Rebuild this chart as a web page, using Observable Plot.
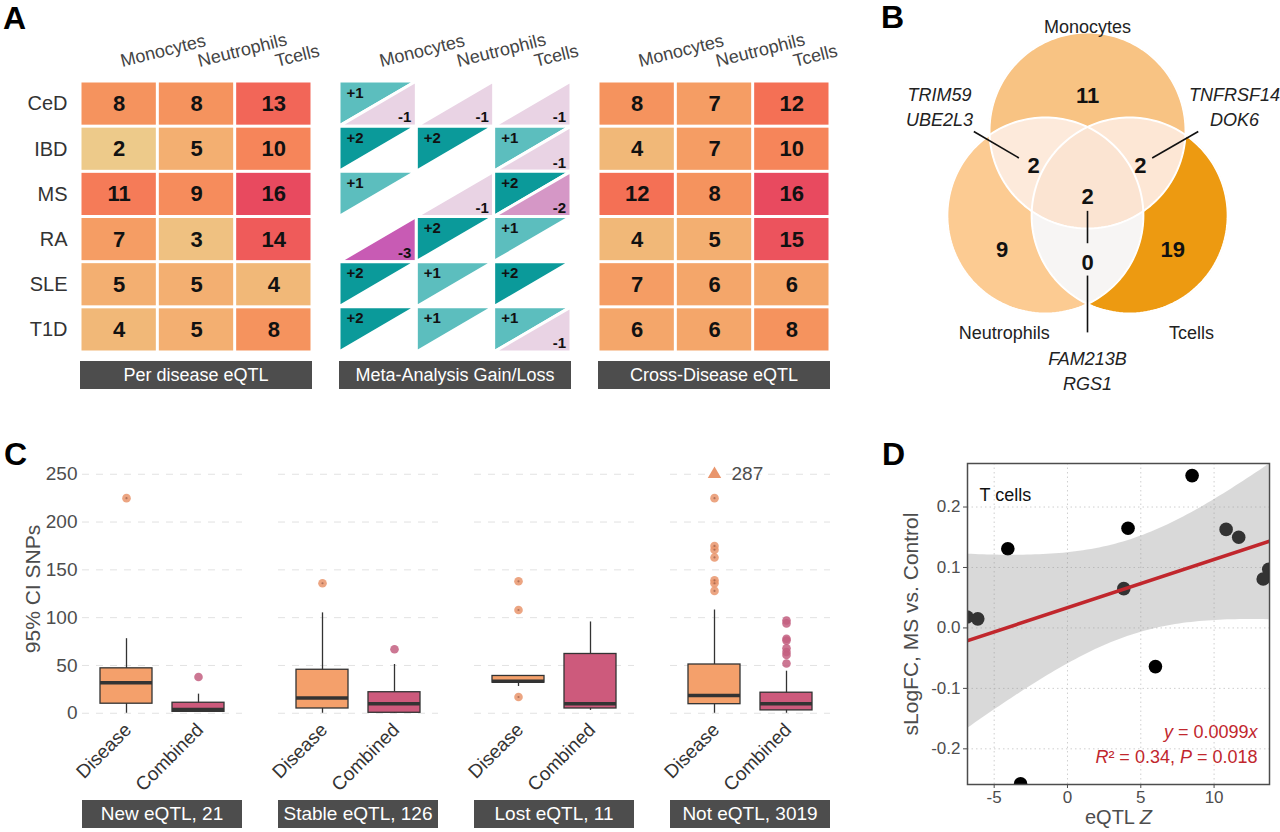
<!DOCTYPE html>
<html><head><meta charset="utf-8">
<script src="https://cdn.jsdelivr.net/npm/d3@7"></script>
<script src="https://cdn.jsdelivr.net/npm/@observablehq/plot@0.6"></script>
<style>
body{margin:0;background:#fff;}
#fig{position:relative;width:1280px;height:832px;overflow:hidden;font-family:"Liberation Sans",Arial,Helvetica,sans-serif;background:#fff;}
.abs{position:absolute;}
.plab{position:absolute;font-size:32px;font-weight:bold;line-height:1;color:#000;}
.strip{position:absolute;background:#4d4d4d;color:#fff;text-align:center;height:28px;line-height:28px;white-space:nowrap;}
</style></head>
<body>
<div id="fig">
  <div id="a1" class="abs" style="left:0;top:0"></div>
  <div id="a2" class="abs" style="left:320px;top:0"></div>
  <div id="a3" class="abs" style="left:580px;top:0"></div>
  <div id="b" class="abs" style="left:880px;top:0"></div>
  <div id="c" class="abs" style="left:0;top:440px"></div>
  <div id="d" class="abs" style="left:860px;top:440px"></div>
  <div class="plab" style="left:3px;top:2px">A</div>
  <div class="plab" style="left:881px;top:1px">B</div>
  <div class="plab" style="left:4px;top:438px">C</div>
  <div class="plab" style="left:882px;top:438px">D</div>
  <div id="stripsA"></div>
  <div id="stripsC"></div>
  <div class="abs" style="left:33px;top:589px;transform:translate(-50%,-50%) rotate(-90deg);font-size:21px;color:#4d4d4d;white-space:nowrap">95% CI SNPs</div>
</div>
<script>
// ---------- DATA ----------
const cellTypes = ["Monocytes", "Neutrophils", "Tcells"];
const diseases = ["CeD", "IBD", "MS", "RA", "SLE", "T1D"];
const perDisease = [[8, 8, 13], [2, 5, 10], [11, 9, 16], [7, 3, 14], [5, 5, 4], [4, 5, 8]];
const metaGain = [[1, 0, 0], [2, 2, 1], [1, 0, 2], [0, 2, 1], [2, 1, 2], [2, 1, 1]];
const metaLoss = [[1, 1, 1], [0, 0, 1], [0, 1, 2], [3, 0, 0], [0, 0, 0], [0, 0, 1]];
const crossDisease = [[8, 7, 12], [4, 7, 10], [12, 8, 16], [4, 5, 15], [7, 6, 6], [6, 6, 8]];
const panelATitles = ["Per disease eQTL", "Meta-Analysis Gain/Loss", "Cross-Disease eQTL"];

const vennSets = ["Monocytes", "Neutrophils", "Tcells"];
const vennRegions = ["M", "N", "T", "MN", "MT", "NT", "MNT"];
const vennCounts = [11, 9, 19, 2, 2, 0, 2];
const vennGenes = {MN: ["TRIM59", "UBE2L3"], MT: ["TNFRSF14", "DOK6"], NT: ["FAM213B", "RGS1"]};

const eqtlGroups = ["New eQTL, 21", "Stable eQTL, 126", "Lost eQTL, 11", "Not eQTL, 3019"];
const analyses = ["Disease", "Combined"];
const whiskerLow = [[0, 1], [0, 0], [28, 3], [0, 0]];
const boxQ1 = [[10, 1.5], [5, 0.5], [32, 5], [9.5, 3]];
const boxMedian = [[32, 4], [16, 10], [33.5, 10], [18.5, 10]];
const boxQ3 = [[47, 11], [45.5, 22], [39, 62], [51, 21.5]];
const whiskerHigh = [[78, 20], [105, 51], [39, 95.5], [108, 44]];
const outliersDisease = [[225], [136], [17, 108, 138], [128, 136, 139, 163, 171, 175, 225, 287]];
const outliersCombined = [[38], [67], [], [52, 61, 64, 68, 76, 78, 94, 97]];
const ciCap = 250;

const zScore = [-6.85, -6.12, -4.07, -3.2, 3.84, 4.13, 6.0, 8.5, 10.82, 11.68, 13.35, 13.73];
const sLogFC = [0.018, 0.015, 0.131, -0.258, 0.065, 0.165, -0.064, 0.252, 0.163, 0.150, 0.081, 0.097];

// ---------- STYLE ----------
const FONT = "Liberation Sans, Arial, Helvetica, sans-serif";
const baseStyle = {fontFamily: FONT, background: "transparent", overflow: "visible"};
const heatColor = {
  type: "linear",
  domain: [2, 4, 6, 8, 10, 12, 14, 16],
  range: ["#edca8a", "#f1b878", "#f4a66a", "#f5935e", "#f6855a", "#f47055", "#ef5b5a", "#e84a5f"],
  interpolate: "rgb"
};

function tidy(m) {
  const rows = [];
  m.forEach((r, ri) => r.forEach((v, ci) => rows.push({ri, ci, v})));
  return rows;
}
function colLabels() {
  return Plot.text(cellTypes, {x: (d, i) => i + 0.5, text: d => d, frameAnchor: "top", dy: -27,
    rotate: -14, textAnchor: "start", fontSize: 18, fill: "#444"});
}

// ---------- PANEL A ----------
function heatmap(matrix, width, marginLeft, marginRight, withRows) {
  const rows = tidy(matrix);
  return Plot.plot({
    width, height: 360, marginLeft, marginRight, marginTop: 81, marginBottom: 8,
    x: {domain: [0, 3], axis: null}, y: {domain: [0, 6], reverse: true, axis: null},
    color: heatColor, style: baseStyle,
    marks: [
      Plot.rect(rows, {x1: "ci", x2: d => d.ci + 1, y1: "ri", y2: d => d.ri + 1, fill: "v", inset: 1.5}),
      Plot.text(rows, {x: d => d.ci + 0.5, y: d => d.ri + 0.5, text: "v", fontSize: 22, fontWeight: "bold", fill: "#111"}),
      colLabels(),
      withRows ? Plot.text(diseases, {y: (d, i) => i + 0.5, text: d => d, frameAnchor: "left", dx: -13,
        textAnchor: "end", fontSize: 20, fill: "#333"}) : null
    ]
  });
}
document.getElementById("a1").append(heatmap(perDisease, 320, 80, 8, true));
document.getElementById("a3").append(heatmap(crossDisease, 260, 18, 10, false));

(function () {
  const areas = [], gainLab = [], lossLab = [];
  diseases.forEach((dz, ri) => cellTypes.forEach((ct, ci) => {
    const g = metaGain[ri][ci], l = metaLoss[ri][ci];
    if (g) {
      const k = "+" + g, id = "g" + ri + ci;
      areas.push({id, k, x: ci, y1: ri, y2: ri + 1}, {id, k, x: ci + 1, y1: ri, y2: ri});
      gainLab.push({ci, ri, t: k});
    }
    if (l) {
      const k = "-" + l, id = "l" + ri + ci;
      areas.push({id, k, x: ci, y1: ri + 1, y2: ri + 1}, {id, k, x: ci + 1, y1: ri, y2: ri + 1});
      lossLab.push({ci, ri, t: k});
    }
  }));
  const p = Plot.plot({
    width: 260, height: 360, marginLeft: 19, marginRight: 9, marginTop: 81, marginBottom: 8,
    x: {domain: [0, 3], axis: null}, y: {domain: [0, 6], reverse: true, axis: null},
    color: {domain: ["+1", "+2", "-1", "-2", "-3"], range: ["#5cbebe", "#0b9a9a", "#e9d3e4", "#d597c6", "#c85bb4"]},
    style: baseStyle,
    marks: [
      Plot.areaY(areas, {x: "x", y1: "y1", y2: "y2", z: "id", fill: "k", stroke: "white", strokeWidth: 3, strokeLinejoin: "miter"}),
      Plot.text(gainLab, {x: d => d.ci + 0.09, y: d => d.ri + 0.25, text: "t", textAnchor: "start", fontSize: 15, fontWeight: "bold", fill: "#111"}),
      Plot.text(lossLab, {x: d => d.ci + 0.93, y: d => d.ri + 0.8, text: "t", textAnchor: "end", fontSize: 15, fontWeight: "bold", fill: "#111"}),
      colLabels()
    ]
  });
  document.getElementById("a2").append(p);
})();

(function () {
  const lefts = [80, 339, 598];
  const host = document.getElementById("stripsA");
  panelATitles.forEach((t, i) => {
    const s = document.createElement("div");
    s.className = "strip"; s.textContent = t;
    s.style.cssText = `left:${lefts[i]}px;top:361px;width:232px;font-size:18px;`;
    host.append(s);
  });
})();

// ---------- PANEL B ----------
(function () {
  const cx = [0, -0.43, 0.43], cy = [0, 0.867, 0.867];
  const colors = ["#f8c383", "#fccb92", "#ed9a11", "#fdeadb", "#fde7d5", "#f7f5f4", "#fbe4d2"];
  const countPos = {M: [0, -0.35], N: [-0.87, 1.22], T: [0.87, 1.22], MN: [-0.55, 0.36], MT: [0.54, 0.36], NT: [0, 1.35], MNT: [0, 0.68]};
  const setPos = [[0, -1.05], [-0.85, 2.07], [1.06, 2.07]];
  const genePos = {MN: [-1.51, -0.26], MT: [1.5, -0.26], NT: [0, 2.44]};
  const leaders = [[-1.16, 0.01, -0.70, 0.28], [1.13, 0.01, 0.66, 0.28], [0, 0.82, 0, 1.15], [0, 1.48, 0, 2.06]];
  const inside = (x, y, i) => (x - cx[i]) ** 2 + (y - cy[i]) ** 2 <= 1;
  const region = (x, y) => {
    const k = (inside(x, y, 0) ? "M" : "") + (inside(x, y, 1) ? "N" : "") + (inside(x, y, 2) ? "T" : "");
    return k || "out";
  };
  const ring = [];
  vennSets.forEach((s, i) => d3.range(0, 361, 2).forEach(a => {
    const t = a * Math.PI / 180;
    ring.push({s, x: cx[i] + Math.cos(t), y: cy[i] + Math.sin(t)});
  }));
  const counts = vennRegions.map((r, i) => ({r, n: vennCounts[i], x: countPos[r][0], y: countPos[r][1]}));
  const genes = Object.keys(vennGenes).map(k => ({t: vennGenes[k].join("\n"), x: genePos[k][0], y: genePos[k][1]}));
  const p = Plot.plot({
    width: 400, height: 400, margin: 0,
    x: {domain: [-2.112, 1.969], axis: null}, y: {domain: [-1.327, 2.755], reverse: true, axis: null},
    color: {domain: [...vennRegions, "out"], range: [...colors, "#ffffff"]},
    style: baseStyle,
    marks: [
      Plot.raster({fill: region, x1: -2.112, x2: 1.969, y1: -1.327, y2: 2.755, pixelSize: 0.5}),
      Plot.line(ring, {x: "x", y: "y", z: "s", stroke: "white", strokeWidth: 2}),
      Plot.link(leaders, {x1: d => d[0], y1: d => d[1], x2: d => d[2], y2: d => d[3], stroke: "#111", strokeWidth: 1.6}),
      Plot.text(counts, {x: "x", y: "y", text: "n", fontSize: 22, fontWeight: "bold", fill: "#111"}),
      Plot.text(vennSets, {x: (d, i) => setPos[i][0], y: (d, i) => setPos[i][1], text: d => d, fontSize: 18, fill: "#222"}),
      Plot.text(genes, {x: "x", y: "y", text: "t", fontSize: 18, fontStyle: "italic", lineHeight: 1.39, fill: "#222"})
    ]
  });
  document.getElementById("b").append(p);
})();

// ---------- PANEL C ----------
(function () {
  const boxes = [], outs = [];
  eqtlGroups.forEach((g, gi) => analyses.forEach((a, ai) => boxes.push({
    group: g, type: a, lo: whiskerLow[gi][ai], q1: boxQ1[gi][ai], med: boxMedian[gi][ai], q3: boxQ3[gi][ai], hi: whiskerHigh[gi][ai]
  })));
  eqtlGroups.forEach((g, gi) => {
    outliersDisease[gi].forEach(v => outs.push({group: g, type: "Disease", v}));
    outliersCombined[gi].forEach(v => outs.push({group: g, type: "Combined", v}));
  });
  const shown = outs.filter(d => d.v <= ciCap), capped = outs.filter(d => d.v > ciCap);
  const ticks = [0, 50, 100, 150, 200, 250];
  const p = Plot.plot({
    width: 840, height: 360, marginLeft: 82, marginRight: 10, marginTop: 28, marginBottom: 81.5,
    fx: {domain: eqtlGroups, paddingInner: 0.1837, paddingOuter: 0, axis: null, label: null},
    x: {domain: analyses, paddingInner: 0.274, paddingOuter: 0.24, axis: null},
    y: {domain: [-6, 256], axis: null},
    color: {domain: analyses, range: ["#f4a06b", "#cd5a7c"]},
    style: baseStyle,
    marks: [
      Plot.gridY({ticks, stroke: "#e2e2e2", strokeOpacity: 1, strokeDasharray: "7,7"}),
      Plot.axisY({ticks, tickSize: 0, tickPadding: 5, fontSize: 19, fill: "#4d4d4d", label: null}),
      Plot.ruleX(boxes, {fx: "group", x: "type", y1: "lo", y2: "hi", stroke: "#333", strokeWidth: 1.3}),
      Plot.barY(boxes, {fx: "group", x: "type", y1: "q1", y2: "q3", fill: "type", stroke: "#333", strokeWidth: 1.3}),
      Plot.tickY(boxes, {fx: "group", x: "type", y: "med", stroke: "#333", strokeWidth: 3.5}),
      Plot.dot(shown, {fx: "group", x: "type", y: "v", r: 4.3, fill: d => d.type === "Disease" ? "#e9956c" : "#c35f80", fillOpacity: 0.85}),
      Plot.dot(shown.filter(d => d.type === "Disease"), {fx: "group", x: "type", y: "v", r: 1.1, fill: "#8a5040", fillOpacity: 0.6}),
      Plot.dot(capped, {fx: "group", x: "type", y: () => ciCap, symbol: "triangle", r: 5, fill: "#e9956c"}),
      Plot.text(capped, {fx: "group", x: "type", y: () => ciCap, text: d => String(d.v), dx: 17, textAnchor: "start", fontSize: 19, fill: "#4d4d4d"}),
      Plot.text(boxes, {fx: "group", x: "type", text: "type", frameAnchor: "bottom", rotate: -45, textAnchor: "end", dx: 6, dy: 12, fontSize: 19, fill: "#333"})
    ]
  });
  document.getElementById("c").append(p);
  const lefts = [82, 278, 474, 670];
  const host = document.getElementById("stripsC");
  eqtlGroups.forEach((t, i) => {
    const s = document.createElement("div");
    s.className = "strip"; s.textContent = t;
    s.style.cssText = `left:${lefts[i]}px;top:800px;width:160px;font-size:19px;`;
    host.append(s);
  });
})();

// ---------- PANEL D ----------
(function () {
  const pts = zScore.map((z, i) => ({z, fc: sLogFC[i]}));
  const xt = [-5, 0, 5, 10], yt = [-0.2, -0.1, 0, 0.1, 0.2];
  const red = "#c1272d";
  const p = Plot.plot({
    width: 420, height: 392, marginLeft: 107, marginRight: 11, marginTop: 23, marginBottom: 48,
    x: {domain: [-6.82, 13.78], axis: null}, y: {domain: [-0.259, 0.272], axis: null},
    style: baseStyle,
    marks: [
      Plot.gridX({ticks: xt, stroke: "#cfcfcf", strokeOpacity: 1, strokeDasharray: "1.5,3"}),
      Plot.gridY({ticks: yt, stroke: "#cfcfcf", strokeOpacity: 1, strokeDasharray: "1.5,3"}),
      Plot.dot(pts, {x: "z", y: "fc", r: 6.8, fill: "#000", clip: true}),
      Plot.linearRegressionY(pts, {x: "z", y: "fc", stroke: red, strokeWidth: 3.5, fill: "#929292", fillOpacity: 0.35, ci: 0.95, clip: true}),
      Plot.frame({stroke: "#4d4d4d", strokeWidth: 1.5}),
      Plot.axisX({ticks: xt, tickSize: 4, tickPadding: 2, fontSize: 17, fill: "#4d4d4d", stroke: "#4d4d4d", tickFormat: d => String(d), label: null}),
      Plot.axisY({ticks: yt, tickSize: 4, tickPadding: 3, fontSize: 17, fill: "#4d4d4d", stroke: "#4d4d4d", tickFormat: d => d.toFixed(1), label: null}),
      Plot.text(["T cells"], {frameAnchor: "top-left", dx: 12, dy: 25, textAnchor: "start", fontSize: 18, fill: "#111"}),
      Plot.text(["y = 0.0099x"], {frameAnchor: "bottom-right", dx: -12, dy: -47, textAnchor: "end", fontSize: 18, fill: red}),
      Plot.text(["R² = 0.34, P = 0.018"], {frameAnchor: "bottom-right", dx: -12, dy: -22, textAnchor: "end", fontSize: 18, fill: red}),
      Plot.text(["eQTL Z"], {frameAnchor: "bottom", dy: 39, textAnchor: "middle", fontSize: 20, fill: "#4d4d4d"}),
      Plot.text(["sLogFC, MS vs. Control"], {frameAnchor: "left", dx: -56, rotate: -90, textAnchor: "middle", fontSize: 21, fill: "#4d4d4d"})
    ]
  });
  const italic = {
    "y = 0.0099x": [["y", 1], [" = 0.0099", 0], ["x", 1]],
    "R² = 0.34, P = 0.018": [["R", 1], ["² = 0.34, ", 0], ["P", 1], [" = 0.018", 0]],
    "eQTL Z": [["eQTL ", 0], ["Z", 1]]
  };
  d3.select(p).selectAll("text").each(function () {
    const parts = italic[this.textContent];
    if (!parts) return;
    const t = d3.select(this); t.text(null);
    parts.forEach(([s, it]) => t.append("tspan").attr("font-style", it ? "italic" : null).text(s));
  });
  document.getElementById("d").append(p);
})();
</script>
</body></html>
